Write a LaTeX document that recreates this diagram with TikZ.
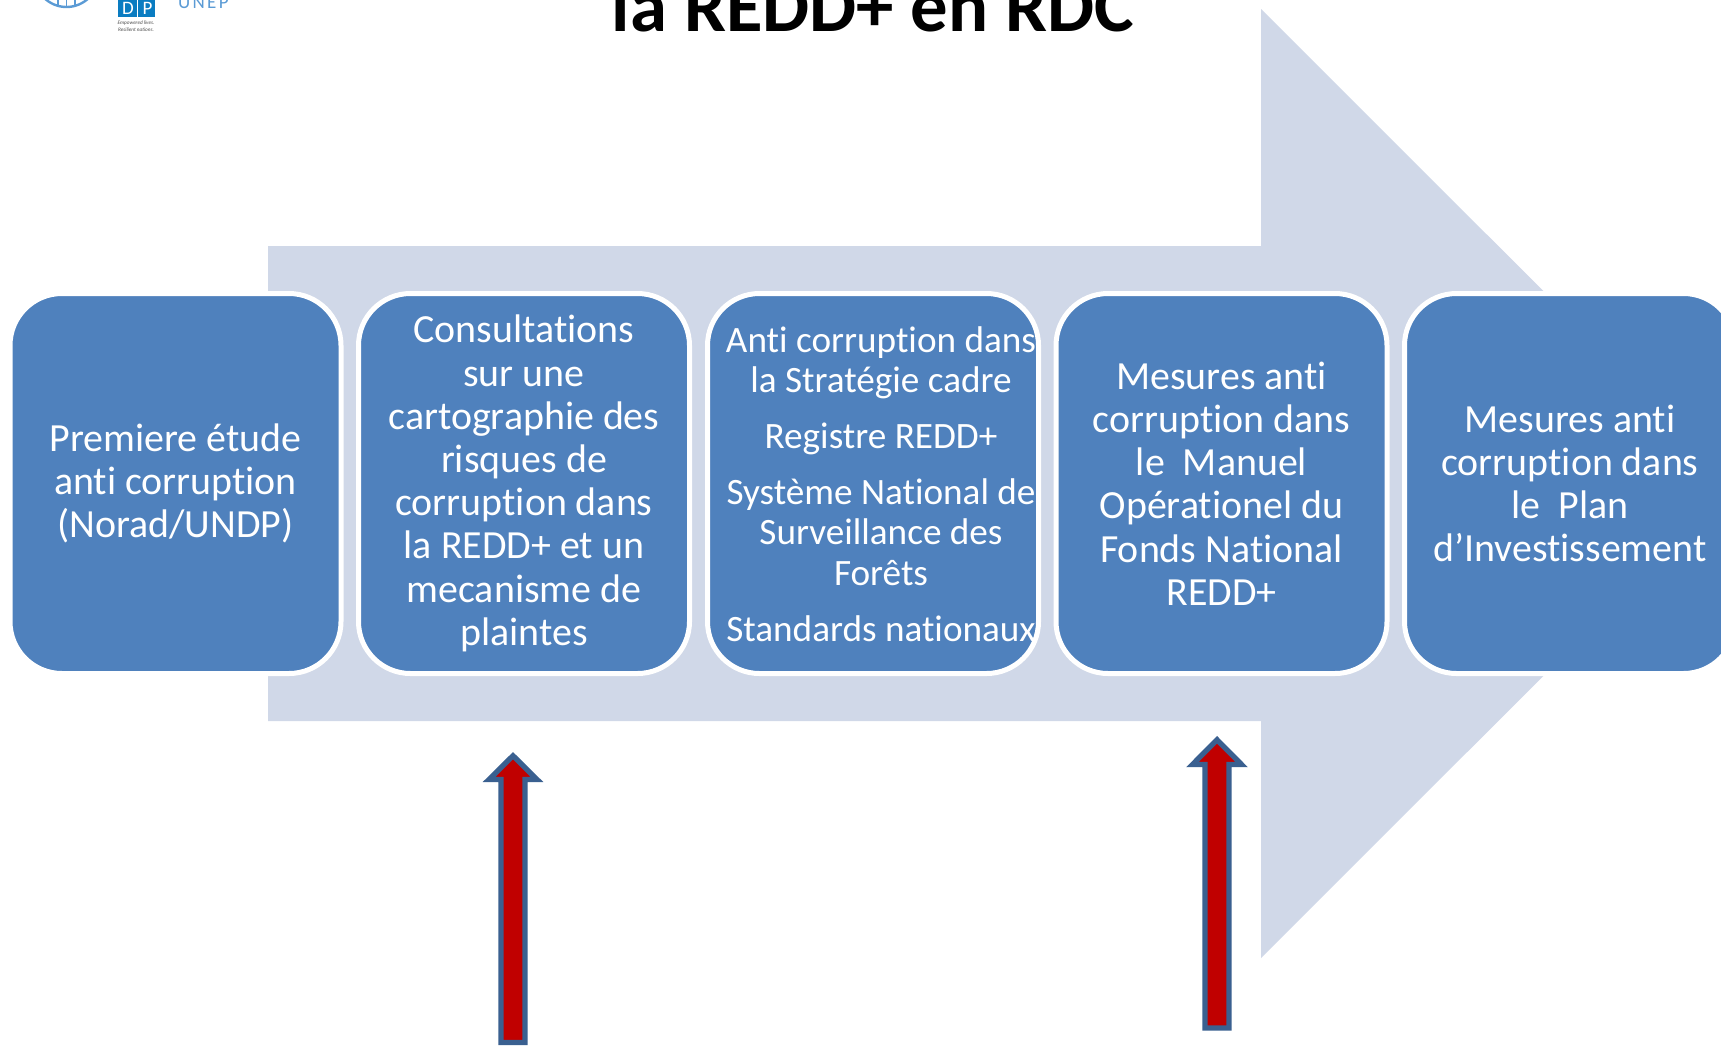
\documentclass[tikz,border=0pt]{standalone}
\usepackage{fontspec}
\setmainfont{Carlito}[Ligatures=NoCommon]
\definecolor{paleblue}{HTML}{D0D8E8}
\definecolor{boxblue}{HTML}{4F81BD}
\definecolor{arrowred}{HTML}{C00000}
\definecolor{arrowedge}{HTML}{3A6090}
\definecolor{logoblue}{HTML}{5B9BD5}
\definecolor{undpblue}{HTML}{0A7CC1}
\tikzset{
  stagebox/.style={draw=white,line width=5pt,fill=boxblue,rounded corners=52pt,minimum width=331pt,minimum height=380pt,inner sep=0pt,text=white,align=center,font=\fontsize{39.9}{43.2}\selectfont},
  stagetext/.style={text=white,align=center,inner sep=0pt,font=\fontsize{37.2}{40.4}\selectfont},
  uparrow/.style={draw=arrowedge,fill=arrowred,line width=5.3pt,miter limit=10},
  bigarrow/.style={fill=paleblue},
  titletext/.style={inner sep=0pt,anchor=base,font=\bfseries\fontsize{74.7}{80}\selectfont},
  unep/.style={inner sep=0pt,anchor=base west,text=logoblue,font=\fontsize{19}{20}\selectfont\addfontfeature{LetterSpace=12}},
  undpletter/.style={inner sep=0pt,anchor=base west,text=white,font=\fontsize{19}{20}\selectfont},
  tinytext/.style={inner sep=0pt,align=center,text=black!70,font=\itshape\fontsize{5.2}{7}\selectfont}
}
\begin{document}
\begin{tikzpicture}[x=1pt,y=-1pt]
\clip (0,0) rectangle (1721,1045);
\fill[white] (0,0) rectangle (1721,1045);
% large background arrow
\fill[bigarrow] (268,246) -- (1261,246) -- (1261,9) -- (1736,483.5) -- (1261,958) -- (1261,721) -- (268,721) -- cycle;
% stages
\node[stagebox] (s1) at (175.5,483.5) {Premiere étude\\anti corruption\\(Norad/UNDP)};
\node[stagebox] (s2) at (524,483.5) {Consultations\\sur une\\cartographie des\\risques de\\corruption dans\\la REDD+ et un\\mecanisme de\\plaintes};
\node[stagebox] (s3) at (873,483.5) {};
\node[stagetext] (s3text) at (881,484) {Anti corruption dans\\la Stratégie cadre\\[15.6pt]Registre REDD+\\[15.6pt]Système National de\\Surveillance des\\Forêts\\[15.6pt]Standards nationaux};
\node[stagebox] (s4) at (1221.5,483.5) {Mesures anti\\corruption dans\\le\ \ Manuel\\Opérationel du\\Fonds National\\REDD+};
\node[stagebox] (s5) at (1570,483.5) {Mesures anti\\corruption dans\\le\ \ Plan\\d’Investissement};
% up arrows
\draw[uparrow] (501,1042.5) -- (501,779.5) -- (489,779.5) -- (513,755.75) -- (537,779.5) -- (525,779.5) -- (525,1042.5) -- cycle;
\draw[uparrow] (1205,1028) -- (1205,764.5) -- (1192.5,764.5) -- (1217,739.75) -- (1241.5,764.5) -- (1229,764.5) -- (1229,1028) -- cycle;
% title
\node[titletext] (title) at (873,31) {la REDD+ en RDC};
% logos
\draw[logoblue,line width=2.4pt] (66.5,-25) circle (32);
\draw[logoblue,line width=1.4pt] (66.5,-34) -- (66.5,7) (58,-13) -- (58,6) (75,-13) -- (75,6);
\fill[undpblue] (118,-5) rectangle (154.5,16.7);
\node[undpletter] (undpd) at (122,14) {D};
\node[undpletter] (undpp) at (142.5,14) {P};
\draw[white,line width=0.5pt] (136.8,-5) -- (136.8,16.7);
\node[tinytext] (undptag) at (136,26.5) {Empowered lives.\\Resilient nations.};
\node[unep] (unep) at (178,8) {UNEP};
\end{tikzpicture}
\end{document}
